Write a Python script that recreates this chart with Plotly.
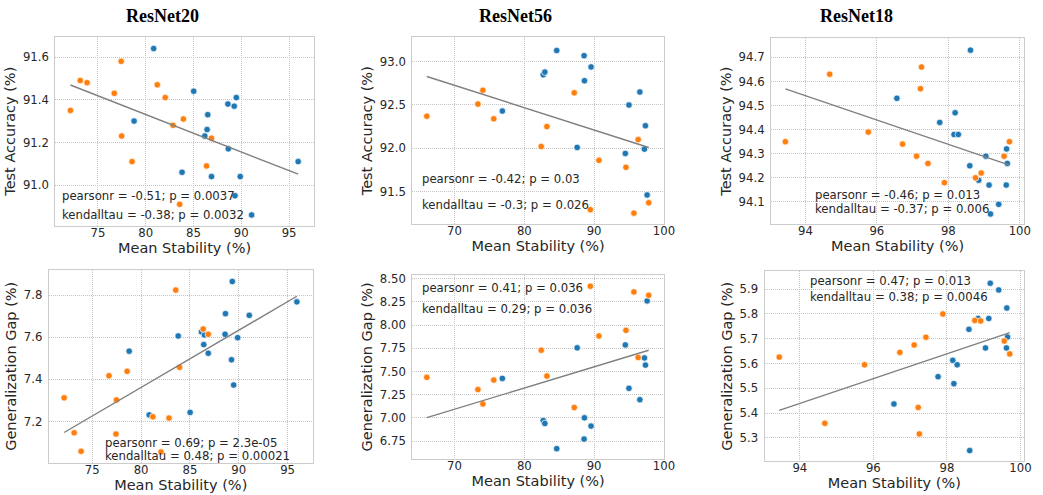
import numpy as np
import plotly.graph_objects as go

# ---------------- data ----------------
# ResNet20
r20_blue_x = [78.78, 80.83, 83.80, 85.02, 86.18, 86.42, 86.49, 86.88, 88.60, 88.64, 89.26, 89.34, 89.48, 89.89, 91.08, 95.95]
r20_blue_acc = [91.30, 91.64, 91.06, 91.44, 91.23, 91.26, 91.33, 91.04, 91.38, 91.17, 91.37, 90.95, 91.41, 91.04, 90.86, 91.11]
r20_blue_gap = [7.534, 7.231, 7.606, 7.243, 7.625, 7.565, 7.611, 7.524, 7.614, 7.712, 7.493, 7.865, 7.373, 7.598, 7.704, 7.768]
r20_orange_x = [72.12, 73.15, 73.86, 76.71, 77.43, 77.48, 78.57, 81.21, 82.04, 82.86, 83.55, 83.94, 86.36, 86.88]
r20_orange_acc = [91.35, 91.49, 91.48, 91.43, 91.58, 91.23, 91.11, 91.47, 91.41, 91.28, 90.91, 91.31, 91.09, 91.22]
r20_orange_gap = [7.312, 7.146, 7.058, 7.417, 7.140, 7.302, 7.438, 7.222, 7.055, 7.216, 7.824, 7.457, 7.639, 7.614]

# ResNet56
r56_blue_x = [84.64, 88.56, 89.56, 82.71, 82.94, 88.61, 96.55, 94.99, 76.85, 97.35, 87.57, 97.21, 94.47, 97.59]
r56_blue_acc = [93.13, 93.07, 92.94, 92.85, 92.88, 92.78, 92.65, 92.50, 92.43, 92.26, 92.01, 91.99, 91.94, 91.46]
r56_blue_gap = [6.668, 6.771, 6.911, 6.971, 6.939, 7.000, 7.196, 7.318, 7.425, 7.568, 7.754, 7.646, 7.786, 8.260]
r56_orange_x = [66.03, 73.35, 74.06, 75.62, 83.23, 82.42, 87.15, 90.69, 94.56, 96.31, 89.46, 95.70, 97.82]
r56_orange_acc = [92.37, 92.51, 92.67, 92.34, 92.25, 92.02, 92.64, 91.86, 91.78, 92.10, 91.29, 91.25, 91.37]
r56_orange_gap = [7.436, 7.304, 7.150, 7.407, 7.450, 7.729, 7.111, 7.882, 7.943, 7.650, 8.418, 8.357, 8.321]

# ResNet18
r18_blue_x = [98.62, 96.56, 98.19, 97.76, 98.16, 98.28, 99.05, 99.63, 99.65, 98.60, 98.85, 99.14, 99.62, 99.41, 99.18]
r18_blue_acc = [94.73, 94.53, 94.47, 94.43, 94.38, 94.38, 94.29, 94.32, 94.26, 94.25, 94.19, 94.17, 94.17, 94.09, 94.05]
r18_blue_gap = [5.249, 5.437, 5.519, 5.547, 5.613, 5.595, 5.663, 5.824, 5.707, 5.738, 5.782, 5.782, 5.663, 5.897, 5.924]
r18_orange_x = [93.44, 94.68, 95.76, 97.25, 97.22, 96.72, 97.11, 97.43, 97.89, 98.76, 98.92, 99.71, 99.56]
r18_orange_acc = [94.35, 94.63, 94.39, 94.66, 94.57, 94.34, 94.29, 94.26, 94.18, 94.20, 94.22, 94.35, 94.29]
r18_orange_gap = [5.626, 5.359, 5.595, 5.316, 5.423, 5.645, 5.675, 5.706, 5.800, 5.774, 5.772, 5.639, 5.691]

titles = ["ResNet20", "ResNet56", "ResNet18"]
x_label = "Mean Stability (%)"
y_labels = ["Test Accuracy (%)", "Generalization Gap (%)"]
stats_text = [
    ["pearsonr = -0.51; p = 0.0037", "kendalltau = -0.38; p = 0.0032"],
    ["pearsonr = -0.42; p = 0.03", "kendalltau = -0.3; p = 0.026"],
    ["pearsonr = -0.46; p = 0.013", "kendalltau = -0.37; p = 0.006"],
    ["pearsonr = 0.69; p = 2.3e-05", "kendalltau = 0.48; p = 0.00021"],
    ["pearsonr = 0.41; p = 0.036", "kendalltau = 0.29; p = 0.036"],
    ["pearsonr = 0.47; p = 0.013", "kendalltau = 0.38; p = 0.0046"],
]

panels = [
    (r20_blue_x, r20_blue_acc, r20_orange_x, r20_orange_acc),
    (r56_blue_x, r56_blue_acc, r56_orange_x, r56_orange_acc),
    (r18_blue_x, r18_blue_acc, r18_orange_x, r18_orange_acc),
    (r20_blue_x, r20_blue_gap, r20_orange_x, r20_orange_gap),
    (r56_blue_x, r56_blue_gap, r56_orange_x, r56_orange_gap),
    (r18_blue_x, r18_blue_gap, r18_orange_x, r18_orange_gap),
]

# ---------------- layout geometry (pixels) ----------------
W, H = 1043, 495
boxes = [  # x0, x1, y0(top), y1(bottom)
    (56, 317, 34, 224),
    (416.7, 671, 34.7, 222.3),
    (779.3, 1035, 35.3, 222.7),
    (49.3, 316, 268.3, 462.7),
    (416.7, 671, 273.3, 459),
    (772.7, 1035, 270, 461),
]
x_ranges = [[70.55, 97.57], [63.95, 100.0], [93.04, 100.12],
            [70.55, 97.57], [63.95, 100.0], [93.04, 100.10]]
y_ranges = [[90.81, 91.695], [91.125, 93.28], [94.007, 94.78],
            [7.003, 7.921], [6.554, 8.543], [5.206, 5.972]]
x_ticks = [[75, 80, 85, 90, 95], [70, 80, 90, 100], [94, 96, 98, 100]]
y_ticks = [[91.0, 91.2, 91.4, 91.6], [91.5, 92.0, 92.5, 93.0],
           [94.1, 94.2, 94.3, 94.4, 94.5, 94.6, 94.7],
           [7.2, 7.4, 7.6, 7.8], [6.75, 7.0, 7.25, 7.5, 7.75, 8.0, 8.25, 8.5],
           [5.3, 5.4, 5.5, 5.6, 5.7, 5.8, 5.9]]
y_fmt = [".1f", ".1f", ".1f", ".1f", ".2f", ".1f"]
text_pos = [(60.7, 194, 213), (424.7, 177, 203), (821.3, 193.3, 207.7),
            (104, 442.7, 455.7), (424.7, 286.7, 308), (816.3, 279.3, 296)]
title_pos = [164, 521, 866]

BLUE = "#1f77b4"
ORANGE = "#ff7f0e"
TXT = "#262626"
FONT = "DejaVu Sans"
GRID = "#c4c4c4"

fig = go.Figure()
layout = dict(
    width=W, height=H, margin=dict(l=0, r=0, t=0, b=0),
    paper_bgcolor="white", plot_bgcolor="white", showlegend=False,
    font=dict(family=FONT, color=TXT, size=12),
)
annotations = []

for i, (bx, by, ox, oy) in enumerate(panels):
    n = i + 1
    xa = "x" if n == 1 else f"x{n}"
    ya = "y" if n == 1 else f"y{n}"
    x0, x1, t0, t1 = boxes[i]
    layout["xaxis" if n == 1 else f"xaxis{n}"] = dict(
        domain=[x0 / W, x1 / W], anchor=ya, range=x_ranges[i],
        tickvals=x_ticks[i % 3], showgrid=True, gridcolor=GRID, griddash="1px,1px",
        gridwidth=1, zeroline=False, showline=True, linecolor="#cccccc", linewidth=1.2,
        mirror=True, ticks="", ticklen=0, ticklabelstandoff=-4,
        tickfont=dict(family=FONT, size=11.7, color=TXT),
        title=dict(text=x_label, font=dict(family=FONT, size=14.5, color=TXT), standoff=0),
    )
    layout["yaxis" if n == 1 else f"yaxis{n}"] = dict(
        domain=[1 - t1 / H, 1 - t0 / H], anchor=xa, range=y_ranges[i],
        tickvals=y_ticks[i], tickformat=y_fmt[i], showgrid=True, gridcolor=GRID,
        griddash="1px,1px", gridwidth=1, zeroline=False, showline=True, linecolor="#cccccc",
        linewidth=1.2, mirror=True, ticks="", ticklen=0, ticklabelstandoff=3,
        tickfont=dict(family=FONT, size=11.7, color=TXT),
        title=dict(text=y_labels[i // 3], font=dict(family=FONT, size=14.5, color=TXT), standoff=3),
    )
    # scatter points
    fig.add_trace(go.Scatter(x=bx, y=by, mode="markers", xaxis=xa, yaxis=ya,
                             marker=dict(color=BLUE, size=6.5, line=dict(color="white", width=0.7))))
    fig.add_trace(go.Scatter(x=ox, y=oy, mode="markers", xaxis=xa, yaxis=ya,
                             marker=dict(color=ORANGE, size=6.5, line=dict(color="white", width=0.7))))
    # regression line over all points
    allx = np.array(list(bx) + list(ox))
    ally = np.array(list(by) + list(oy))
    k, b = np.polyfit(allx, ally, 1)
    lx = np.array([allx.min(), allx.max()])
    fig.add_trace(go.Scatter(x=lx, y=k * lx + b, mode="lines", xaxis=xa, yaxis=ya,
                             line=dict(color="#808080", width=1.4)))
    # stats text
    px, py1, py2 = text_pos[i]
    for txt, py in zip(stats_text[i], (py1, py2)):
        annotations.append(dict(text=txt, xref="paper", yref="paper", x=px / W, y=1 - py / H,
                                xanchor="left", yanchor="middle", showarrow=False,
                                font=dict(family=FONT, size=11.7, color=TXT)))

for t, cx in zip(titles, title_pos):
    annotations.append(dict(text=f"<b>{t}</b>", xref="paper", yref="paper", x=cx / W, y=1 - 13 / H,
                            xanchor="center", yanchor="middle", showarrow=False,
                            font=dict(family="Liberation Serif", size=18, color="black")))

layout["annotations"] = annotations
fig.update_layout(**layout)
fig.write_html("out.html")
